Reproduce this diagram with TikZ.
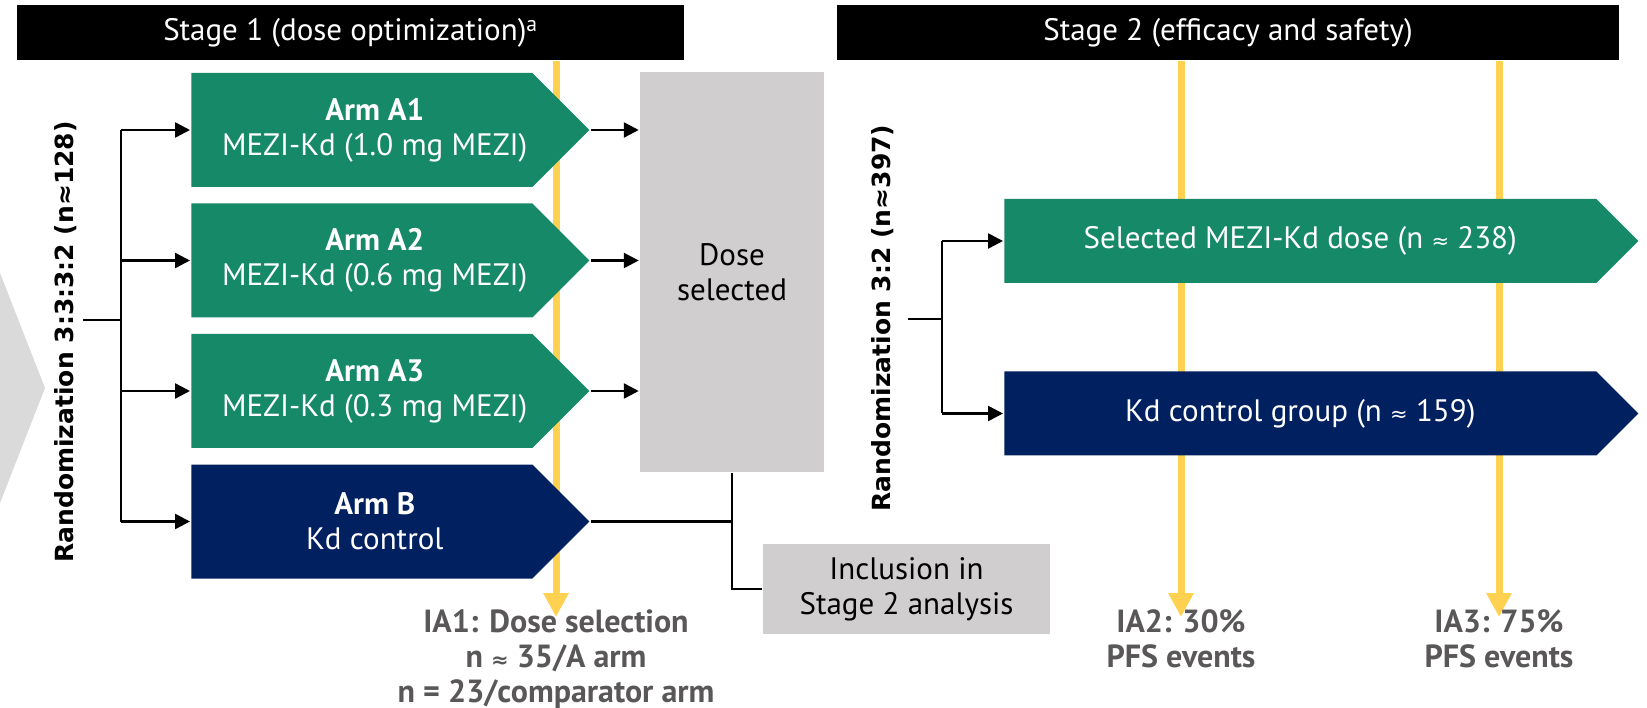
\documentclass[tikz,border=0pt]{standalone}
\usepackage{fontspec}
\setmainfont{PT Sans}
\newfontfamily\widesans{DejaVu Sans}
\usetikzlibrary{positioning,shapes.symbols,arrows.meta}
\definecolor{armgreen}{RGB}{22,137,104}
\definecolor{armnavy}{RGB}{0,32,96}
\definecolor{boxgrey}{RGB}{208,206,206}
\definecolor{chevgrey}{RGB}{218,218,218}
\definecolor{iayellow}{RGB}{255,209,80}
\definecolor{iagrey}{RGB}{89,87,87}
\newcommand{\apx}{{\widesans\fontsize{21}{21}\selectfont ≈}}
\newcommand{\armtext}[2]{\hspace*{26pt}\textbf{#1}\\\hspace*{26pt}#2}

\begin{document}
\begin{tikzpicture}[
    x=1pt, y=-1pt,
    line width=2.5pt,
    >={Triangle[length=15pt,width=15pt]},
    node distance=14pt,
    every node/.style={font=\fontsize{31}{35}\selectfont, align=center},
    stagebar/.style={fill=black, text=white, minimum height=55pt, inner sep=0pt},
    arm/.style={signal, signal to=east, signal pointer angle=90, text=white, inner sep=0pt},
    stageone/.style={arm, minimum width=398pt, minimum height=114pt},
    stagetwo/.style={arm, minimum width=634pt, minimum height=84pt},
    greybox/.style={fill=boxgrey, inner sep=0pt},
    randlabel/.style={rotate=90, font=\widesans\bfseries\fontsize{25}{28}\selectfont},
    ialabel/.style={text=iagrey, font=\bfseries\fontsize{32}{35}\selectfont, anchor=north, inner sep=0pt},
    timeline/.style={draw=iayellow, line width=7pt, -{Triangle[length=24pt,width=24pt]}}
  ]
  \useasboundingbox (0,0) rectangle (1647,708);

  % Background chevron
  \fill[chevgrey] (0,273) -- (45,388) -- (0,503) -- cycle;

  % Stage bars
  \node[stagebar, minimum width=667pt] (s1bar) at (350.5,32.5) {Stage 1 (dose optimization)\textsuperscript{a}};
  \node[stagebar, minimum width=782pt] (s2bar) at (1228,32.5) {Stage 2 (efficacy and safety)};

  % Interim analyses (behind the arms)
  \coordinate (ia1tip) at (556,617);
  \coordinate (ia2tip) at (1181,617);
  \coordinate (ia3tip) at (1499,617);
  \draw[timeline] (s1bar.south -| ia1tip) -- (ia1tip);
  \draw[timeline] (s2bar.south -| ia2tip) -- (ia2tip);
  \draw[timeline] (s2bar.south -| ia3tip) -- (ia3tip);
  \node[ialabel] (ia1) at (556,608) {IA1: Dose selection\\n \apx{} 35/A arm\\n = 23/comparator arm};
  \node[ialabel] (ia2) at (1181,608) {IA2: 30\%\\PFS events};
  \node[ialabel] (ia3) at (1499,608) {IA3: 75\%\\PFS events};

  % Stage 1 arms
  \node[stageone, fill=armgreen, anchor=west] (a1) at (190,130) {\armtext{Arm A1}{MEZI-Kd (1.0 mg MEZI)}};
  \node[stageone, fill=armgreen, below=of a1] (a2) {\armtext{Arm A2}{MEZI-Kd (0.6 mg MEZI)}};
  \node[stageone, fill=armgreen, below=of a2] (a3) {\armtext{Arm A3}{MEZI-Kd (0.3 mg MEZI)}};
  \node[stageone, fill=armnavy, below=of a3] (b) {\armtext{Arm B}{Kd control}};

  \node[greybox, minimum width=184pt, minimum height=400pt] (dose) at (732,272) {Dose\\selected};
  \node[greybox, minimum width=287pt, minimum height=90pt] (incl) at (906.5,589) {Inclusion in\\Stage 2 analysis};

  % Stage 2 arms
  \node[stagetwo, fill=armgreen, anchor=west] (sel) at (1003,241) {Selected MEZI-Kd dose (n \apx{} 238)};
  \node[stagetwo, fill=armnavy, below=86pt of sel] (kd) {Kd control group (n \apx{} 159)};

  % Randomization labels
  \node[randlabel] (rand1) at (66,342) {Randomization 3:3:3:2 (n≈128)};
  \node[randlabel] (rand2) at (883,318) {Randomization 3:2 (n≈397)};

  % Stage 1 connectors
  \coordinate (r1end) at (83,320);
  \coordinate (split1) at (121,320);
  \draw (r1end) -- (split1);
  \draw (split1 |- a1.west) -- (split1 |- b.west);
  \foreach \n in {a1,a2,a3,b}
    \draw[->] (split1 |- \n.west) -- (\n.west);
  \foreach \n in {a1,a2,a3}
    \draw[->] (\n.east) -- (\n.east -| dose.west);
  \draw (b.east) -- (b.east -| dose.south);
  \draw (dose.south) |- (incl.west);

  % Stage 2 connectors
  \coordinate (r2end) at (908,319);
  \coordinate (split2) at (942,319);
  \draw (r2end) -- (split2);
  \draw (split2 |- sel.west) -- (split2 |- kd.west);
  \foreach \n in {sel,kd}
    \draw[->] (split2 |- \n.west) -- (\n.west);
\end{tikzpicture}
\end{document}
